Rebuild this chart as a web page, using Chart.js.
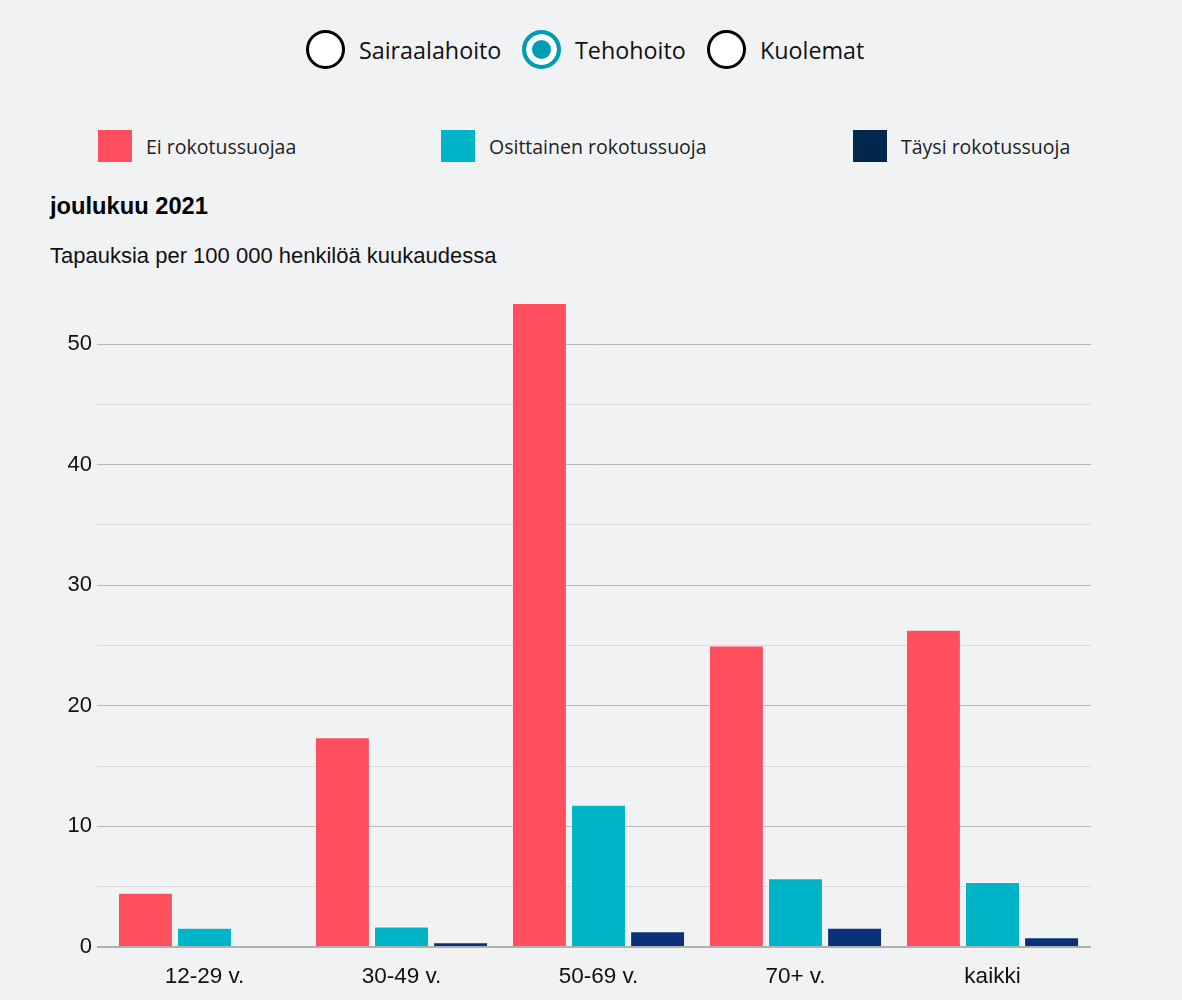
<!DOCTYPE html>
<html lang="fi">
<head>
<meta charset="utf-8">
<script src="https://cdn.jsdelivr.net/npm/chart.js@4"></script>
<style>
  body { margin: 0; background: #f1f2f4; width: 1182px; height: 1000px; overflow: hidden; position: relative; }
  .radio { position: absolute; top: 30px; display: flex; align-items: center; font-family: "Open Sans", sans-serif; font-size: 23.3px; color: #111; }
  .circle { box-sizing: border-box; width: 39px; height: 39px; border-radius: 50%; border: 3px solid #000; background: #fff; margin-right: 14px; }
  .circle.on { border: 4px solid #009cb4; background: #009cb4; box-shadow: inset 0 0 0 6px #fff; }
  .legend { position: absolute; top: 130px; display: flex; align-items: center; font-family: "Open Sans", sans-serif; font-size: 19.5px; color: #222; }
  .swatch { width: 34px; height: 32px; margin-right: 14px; }
  #title { position: absolute; left: 50px; top: 193px; font: bold 23.7px "Liberation Sans", Arial, sans-serif; color: #000; }
  #subtitle { position: absolute; left: 50px; top: 243px; font: 22px "Liberation Sans", Arial, sans-serif; color: #111; }
  #wrap { position: absolute; left: 0; top: 280px; width: 1182px; height: 720px; }
</style>
</head>
<body>
<div class="radio" style="left:306px"><div class="circle"></div>Sairaalahoito</div>
<div class="radio" style="left:522px"><div class="circle on"></div>Tehohoito</div>
<div class="radio" style="left:707px"><div class="circle"></div>Kuolemat</div>

<div class="legend" style="left:98px"><div class="swatch" style="background:#ff4f5f"></div>Ei rokotussuojaa</div>
<div class="legend" style="left:441px"><div class="swatch" style="background:#00b4c8"></div>Osittainen rokotussuoja</div>
<div class="legend" style="left:853px"><div class="swatch" style="background:#00284f"></div>Täysi rokotussuoja</div>

<div id="title">joulukuu 2021</div>
<div id="subtitle">Tapauksia per 100 000 henkilöä kuukaudessa</div>

<div id="wrap"><canvas id="myChart"></canvas></div>

<script>
const categories = ['12-29 v.', '30-49 v.', '50-69 v.', '70+ v.', 'kaikki'];
const eiRokotusta = [4.5, 17.4, 53.4, 25.0, 26.3];
const osittainen = [1.6, 1.7, 11.8, 5.7, 5.4];
const taysi = [0, 0.4, 1.3, 1.6, 0.8];
const yTicks = [0, 5, 10, 15, 20, 25, 30, 35, 40, 45, 50];

function constructChart(){
    const barData = {
        labels: categories,
        datasets: [{
            label: 'Ei rokotussuojaa',
            data: eiRokotusta,
            backgroundColor: '#ff4f5f',
            borderColor: 'rgba(255,255,255,0.45)',
            borderWidth: 1
        },{
            label: 'Osittainen rokotussuoja',
            data: osittainen,
            backgroundColor: '#00b4c8',
            borderColor: 'rgba(255,255,255,0.45)',
            borderWidth: 1
        },{
            label: 'Täysi rokotussuoja',
            data: taysi,
            backgroundColor: '#0b3278',
            borderColor: 'rgba(255,255,255,0.45)',
            borderWidth: 1
        }]
    };
    const barConfig = {
        type: 'bar',
        data: barData,
        options: {
            responsive: true,
            maintainAspectRatio: false,
            animation: false,
            layout: { padding: { top: 14, right: 91, bottom: 0, left: 0 } },
            datasets: { bar: { categoryPercentage: 0.9, barPercentage: 0.93 } },
            plugins: { legend: { display: false }, tooltip: { enabled: false } },
            scales: {
                x: {
                    grid: { display: false, drawTicks: false },
                    border: { display: false },
                    ticks: { color: '#111', padding: 16, font: { family: 'Liberation Sans', size: 22.5 } },
                    afterFit: function(scale){ scale.height = 53; }
                },
                y: {
                    min: 0,
                    max: 53.8,
                    afterBuildTicks: function(scale){ scale.ticks = yTicks.map(v => ({ value: v })); },
                    afterFit: function(scale){ scale.width = 106; },
                    border: { display: false },
                    grid: {
                        tickLength: 9,
                        color: ctx => ctx.tick.value === 0 ? '#b0b0b0' : (ctx.tick.value % 10 === 0 ? '#b8b8b8' : '#d9d9d9'),
                        lineWidth: ctx => ctx.tick.value === 0 ? 2 : 1
                    },
                    ticks: {
                        color: '#111',
                        padding: 5,
                        font: { family: 'Liberation Sans', size: 22 },
                        callback: v => v % 10 === 0 ? v : ''
                    }
                }
            }
        }
    };
    const ctx = document.getElementById('myChart').getContext('2d');
    const myChart = new Chart(ctx, barConfig);
}
constructChart();
</script>
</body>
</html>
